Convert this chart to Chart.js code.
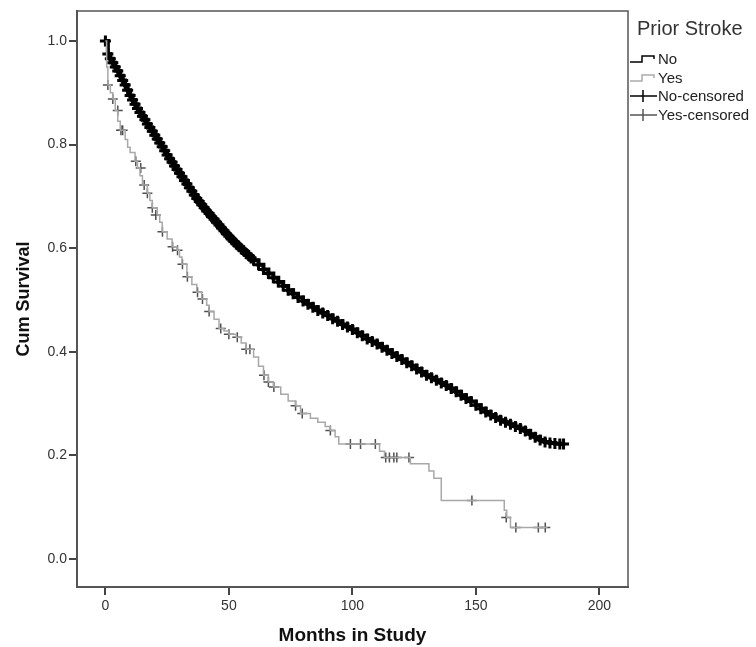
<!DOCTYPE html>
<html>
<head>
<meta charset="utf-8">
<script src="https://cdn.jsdelivr.net/npm/chart.js@4.4.0/dist/chart.umd.min.js"></script>
<style>
  body { margin: 0; background: #fff; }
  #wrap { width: 756px; height: 647px; }
</style>
</head>
<body>
<div id="wrap"><canvas id="km" width="756" height="647"></canvas></div>
<script>
// axis ticks
const xTicks = [0, 50, 100, 150, 200];
const yTicks = [0, 0.2, 0.4, 0.6, 0.8, 1.0];

// Prior Stroke = No (dense, censored marks sit on the curve)
const noTimes = [0, 1, 2, 3, 4, 5, 6, 7, 8, 9, 10, 11, 12, 13, 14, 15, 16, 17, 18, 19, 20, 21, 22, 23,
    24, 25, 26, 27, 28, 29, 30, 31, 32, 33, 34, 35, 36, 37, 38, 39, 40, 41, 42, 43, 44, 45, 46, 47, 48,
    49, 50, 51, 52, 53, 54, 55, 56, 57, 58, 59, 60, 62, 64, 66, 68, 70, 72, 74, 76, 78, 80, 82, 84, 86,
    88, 90, 92, 94, 96, 98, 100, 102, 104, 106, 108, 110, 112, 114, 116, 118, 120, 122, 124, 126, 128,
    130, 132, 134, 136, 138, 140, 142, 144, 146, 148, 150, 152, 154, 156, 158, 160, 162, 164, 166,
    168, 170, 172, 174, 176, 178, 180, 182, 184, 185.5];
const noSurv = [1.000, 0.975, 0.966, 0.958, 0.950, 0.942, 0.933, 0.924, 0.915, 0.905, 0.895, 0.886,
    0.878, 0.870, 0.862, 0.855, 0.848, 0.840, 0.833, 0.826, 0.818, 0.811, 0.803, 0.796, 0.788, 0.780,
    0.773, 0.766, 0.759, 0.752, 0.745, 0.738, 0.731, 0.724, 0.717, 0.710, 0.703, 0.696, 0.690, 0.684,
    0.678, 0.672, 0.667, 0.661, 0.656, 0.650, 0.645, 0.639, 0.634, 0.628, 0.623, 0.618, 0.613, 0.608,
    0.604, 0.599, 0.595, 0.590, 0.586, 0.581, 0.577,
    0.568, 0.559, 0.551, 0.543, 0.535, 0.527, 0.519, 0.512, 0.505, 0.498, 0.492, 0.486, 0.480, 0.475,
    0.470, 0.464, 0.459, 0.453, 0.448, 0.443, 0.437, 0.431, 0.425, 0.420, 0.415, 0.409, 0.403, 0.397,
    0.391, 0.385, 0.379, 0.373, 0.367, 0.361, 0.355, 0.350, 0.345, 0.340, 0.335, 0.329, 0.323, 0.316,
    0.310, 0.304, 0.297, 0.290, 0.284, 0.278, 0.273, 0.268, 0.264, 0.260, 0.256, 0.252, 0.247, 0.241,
    0.235, 0.230, 0.226, 0.224, 0.223, 0.222, 0.222];

// Prior Stroke = Yes, step points (event time, survival after)
const yesTimes = [0, 0.5, 1, 2, 3, 4, 5, 6, 8, 9, 10, 12, 13, 14, 15, 17, 18, 19, 21, 22, 23, 25, 27,
    29, 30, 31, 33, 35, 37, 39, 41, 42, 44, 46, 48, 50, 53, 55, 57, 60, 62, 64, 66, 68, 71, 74, 77,
    79, 83, 86, 89, 91, 93, 94.5, 111, 113, 123.5, 131, 133, 136, 161.5, 162.5, 164, 179];
const yesSurv = [1.0, 0.95, 0.915, 0.90, 0.888, 0.866, 0.845, 0.828, 0.81, 0.795, 0.785, 0.768,
    0.755, 0.74, 0.722, 0.706, 0.692, 0.678, 0.664, 0.65, 0.632, 0.618, 0.603, 0.596, 0.583, 0.569,
    0.545, 0.53, 0.515, 0.502, 0.49, 0.478, 0.463, 0.445, 0.44, 0.434, 0.428, 0.417, 0.405, 0.39,
    0.372, 0.355, 0.342, 0.332, 0.318, 0.305, 0.296, 0.281, 0.272, 0.264, 0.256, 0.248, 0.236, 0.222,
    0.208, 0.196, 0.184, 0.170, 0.156, 0.113, 0.094, 0.080, 0.061, 0.061];

// Yes censored marks
const yesCensTimes = [1, 3, 5, 6.3, 7, 12.3, 14.3, 15.7, 17, 19, 20.4, 23.1, 27.2, 29.2, 31.2, 33.2,
    37.3, 39.3, 42, 46.7, 50, 53.4, 57, 58.5, 64.2, 66, 68.2, 77, 79.7, 91.1, 99.2, 103.3, 109.3,
    113.5, 115, 116.8, 118, 122.9, 148.4, 162.3, 166.2, 175.3, 178.1];
const yesCensSurv = [0.915, 0.888, 0.866, 0.828, 0.828, 0.768, 0.755, 0.722, 0.706, 0.678, 0.664,
    0.632, 0.603, 0.596, 0.569, 0.545, 0.515, 0.502, 0.478, 0.445, 0.434, 0.428, 0.405, 0.405, 0.355,
    0.342, 0.332, 0.296, 0.281, 0.248, 0.222, 0.222, 0.222, 0.196, 0.196, 0.196, 0.196, 0.196, 0.113,
    0.080, 0.061, 0.061, 0.061];

const legendLabels = ['No', 'Yes', 'No-censored', 'Yes-censored'];

function pts(ts, vs) {
    return ts.map((t, i) => ({ x: t, y: vs[i] }));
}

// frame round the plot + the SPSS style legend on the right
const framePlugin = {
    id: 'frame',
    afterDraw(chart) {
        const ctx = chart.ctx;
        const a = chart.chartArea;
        ctx.save();
        ctx.strokeStyle = '#555';
        ctx.lineWidth = 1.5;
        ctx.beginPath();
        ctx.moveTo(a.left, a.top);
        ctx.lineTo(a.right, a.top);
        ctx.lineTo(a.right, a.bottom);
        ctx.stroke();

        // legend
        ctx.fillStyle = '#333';
        ctx.textBaseline = 'middle';
        ctx.font = '20px "Liberation Sans", Arial, sans-serif';
        ctx.fillText('Prior Stroke', 637, 29);
        ctx.font = '15px "Liberation Sans", Arial, sans-serif';
        const rowY = [59, 78, 96, 115];
        const cols = ['#000', '#aaa', '#000', '#555'];
        legendLabels.forEach((lab, i) => {
            const y = rowY[i];
            ctx.strokeStyle = cols[i];
            ctx.lineWidth = 1.5;
            ctx.beginPath();
            if (i < 2) {
                ctx.moveTo(630, y + 3);
                ctx.lineTo(642, y + 3);
                ctx.lineTo(642, y - 3);
                ctx.lineTo(654, y - 3);
                ctx.lineTo(654, y);
            } else {
                ctx.moveTo(630, y);
                ctx.lineTo(657, y);
                ctx.moveTo(643, y - 6);
                ctx.lineTo(643, y + 6);
            }
            ctx.stroke();
            ctx.fillStyle = '#222';
            ctx.fillText(lab, 658, y + 1);
        });
        ctx.restore();
    }
};

const tickFont = { family: '"Liberation Sans", Arial, sans-serif', size: 14 };

new Chart(document.getElementById('km'), {
    type: 'scatter',
    data: {
        datasets: [
            {
                label: 'Yes',
                data: pts(yesTimes, yesSurv),
                showLine: true,
                stepped: 'before',
                borderColor: '#a8a8a8',
                borderWidth: 1.5,
                pointRadius: 0
            },
            {
                label: 'Yes-censored',
                data: pts(yesCensTimes, yesCensSurv),
                pointStyle: 'cross',
                pointRadius: 5,
                borderColor: '#505050',
                borderWidth: 1.5
            },
            {
                label: 'No',
                data: pts(noTimes, noSurv),
                showLine: true,
                stepped: 'before',
                borderColor: '#000',
                borderWidth: 4,
                pointRadius: 0
            },
            {
                label: 'No-censored',
                data: pts(noTimes, noSurv),
                pointStyle: 'cross',
                pointRadius: 5.5,
                borderColor: '#000',
                borderWidth: 3
            }
        ]
    },
    options: {
        responsive: false,
        animation: false,
        devicePixelRatio: 1,
        layout: { padding: { left: 0, top: 11, right: 128, bottom: 0 } },
        plugins: { legend: { display: false }, tooltip: { enabled: false } },
        scales: {
            x: {
                type: 'linear',
                min: -11.5,
                max: 211.6,
                afterBuildTicks: (s) => { s.ticks = xTicks.map(v => ({ value: v })); },
                afterFit: (s) => { s.height = 60; },
                grid: { drawOnChartArea: false, drawTicks: true, tickLength: 8, color: '#444', lineWidth: 2 },
                border: { display: true, color: '#555', width: 2 },
                ticks: { font: tickFont, color: '#333', padding: 3, maxRotation: 0 },
                title: {
                    display: true,
                    text: 'Months in Study',
                    font: { family: '"Liberation Sans", Arial, sans-serif', size: 19, weight: 'bold' },
                    color: '#111',
                    padding: { top: 0, bottom: 0 }
                }
            },
            y: {
                type: 'linear',
                min: -0.054,
                max: 1.058,
                afterBuildTicks: (s) => { s.ticks = yTicks.map(v => ({ value: v })); },
                afterFit: (s) => { s.width = 77; },
                grid: { drawOnChartArea: false, drawTicks: true, tickLength: 8, color: '#444', lineWidth: 2 },
                border: { display: true, color: '#555', width: 2 },
                ticks: { font: tickFont, color: '#333', padding: 2, callback: (v) => v.toFixed(1) },
                title: {
                    display: true,
                    text: 'Cum Survival',
                    font: { family: '"Liberation Sans", Arial, sans-serif', size: 18, weight: 'bold' },
                    color: '#111',
                    padding: { top: 13, bottom: 0 }
                }
            }
        }
    },
    plugins: [framePlugin]
});
</script>
</body>
</html>
